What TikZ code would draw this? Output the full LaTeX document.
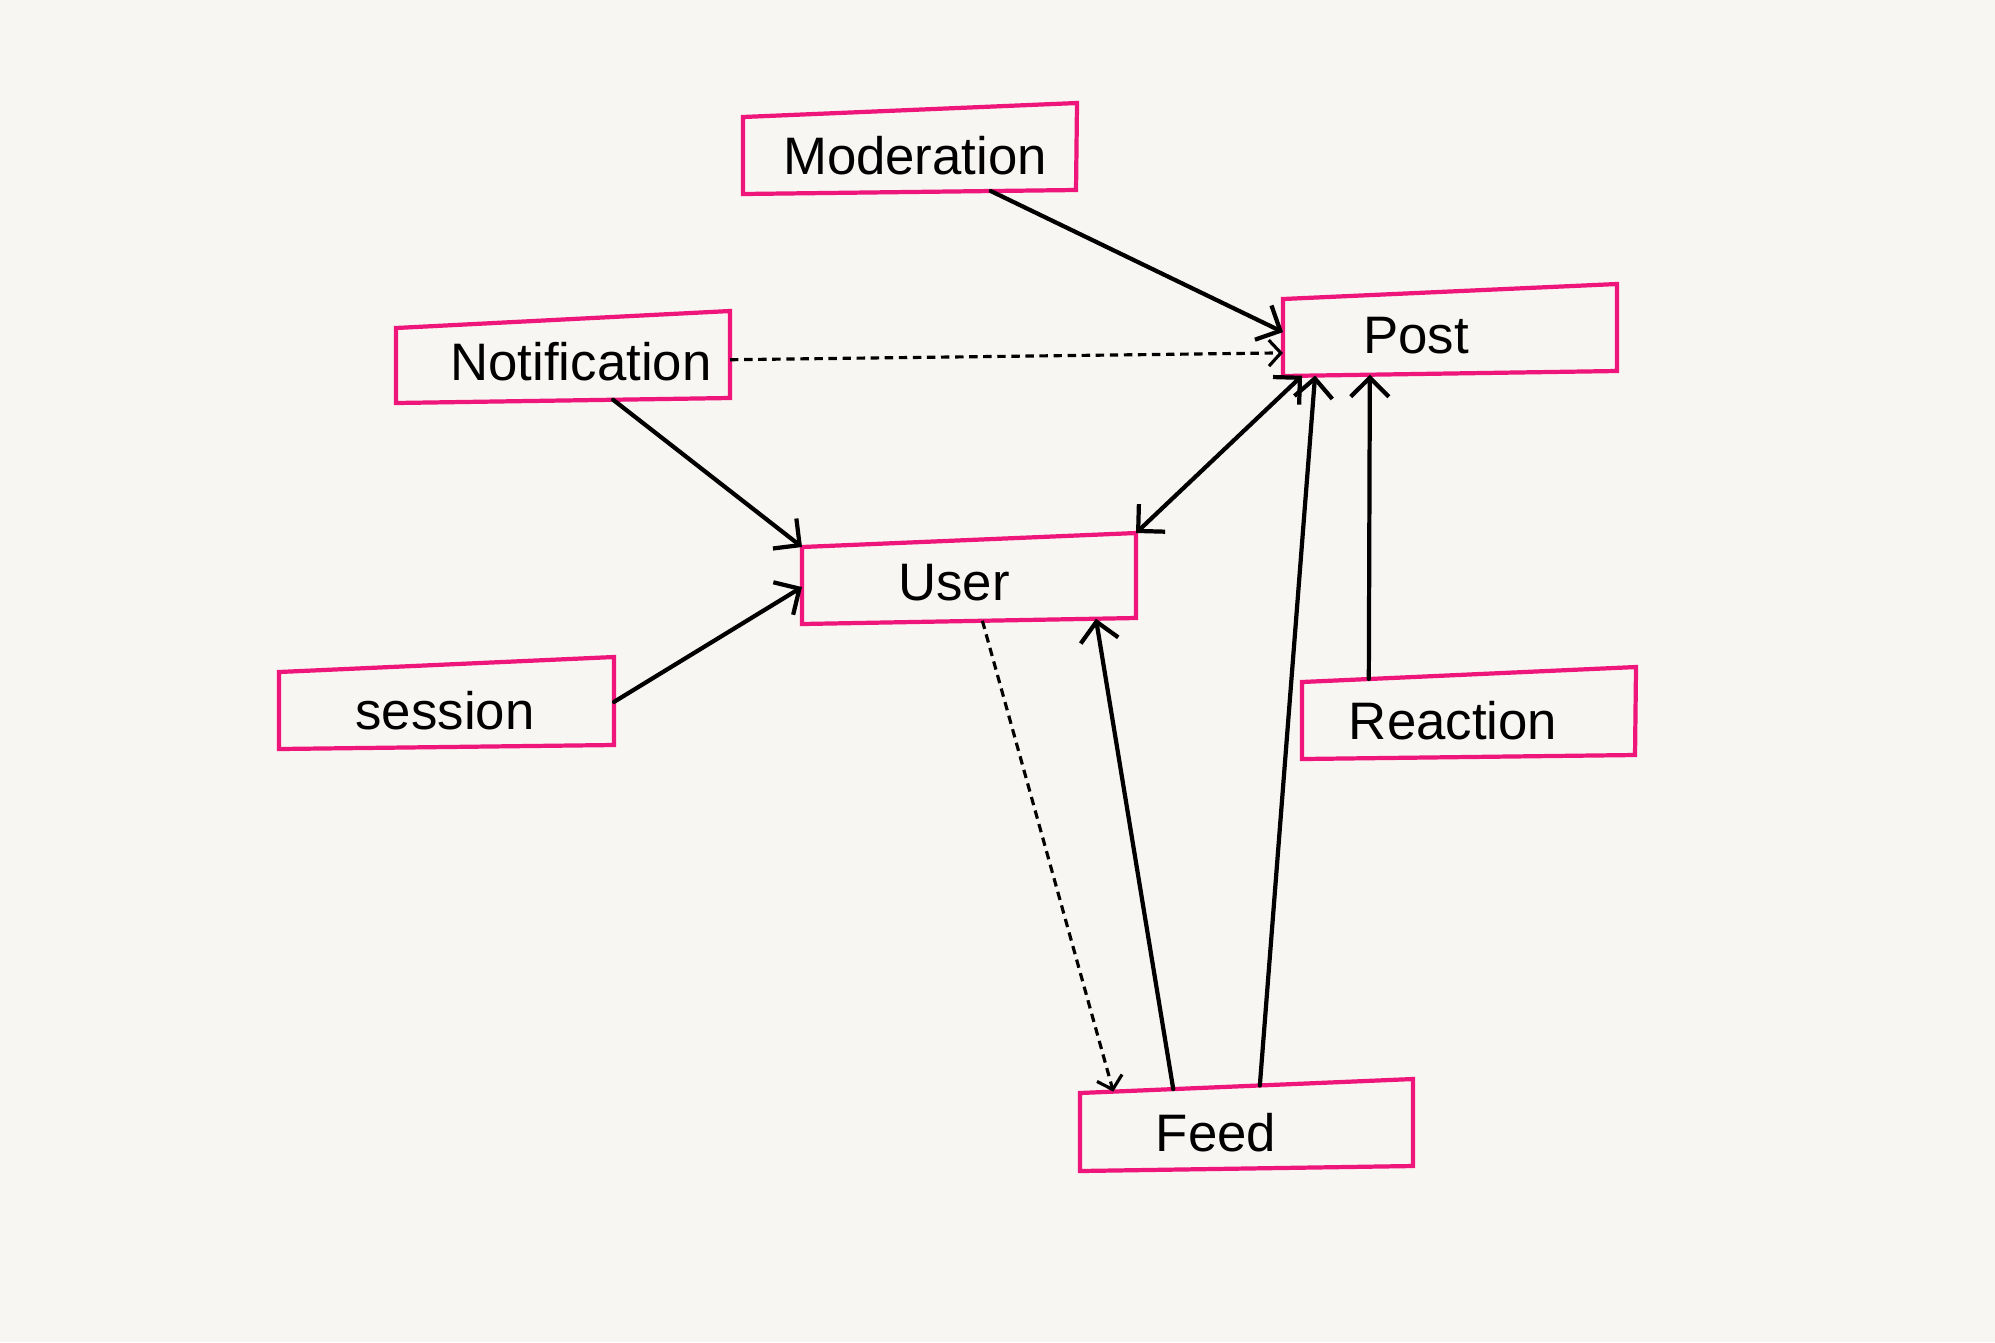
\documentclass[tikz,border=0pt]{standalone}
\usepackage{fontspec}
\setmainfont{Liberation Sans}
\usetikzlibrary{arrows.meta,calc}
\definecolor{paper}{RGB}{248,246,242}
\definecolor{boxpink}{RGB}{238,22,122}
\tikzset{
  barb/.tip={Straight Barb[length=1.9mm,width=3.8mm]},
  sbarb/.tip={Straight Barb[length=1.2mm,width=2.6mm]},
  box/.style={draw=boxpink, line width=1.2pt, line join=miter},
  lbl/.style={font=\fontsize{15}{18}\selectfont, text=black, inner sep=0pt},
  link/.style={draw=black, line width=1.2pt, line cap=round, -barb},
  twolink/.style={draw=black, line width=1.2pt, line cap=round, barb-barb},
  dlink/.style={draw=black, line width=0.9pt, dash pattern=on 2.4pt off 1.6pt, -sbarb}
}
\begin{document}
\begin{tikzpicture}[x=0.01cm,y=-0.01cm]
\useasboundingbox (0,0) rectangle (1995,1342);
\fill[paper] (0,0) rectangle (1995,1342);

% Moderation
\coordinate (modTL) at (743,117); \coordinate (modTR) at (1077,103);
\coordinate (modBR) at (1076,190); \coordinate (modBL) at (743,194);
\draw[box] (modTL) -- (modTR) -- (modBR) -- (modBL) -- cycle;
\node[lbl] (mod) at (915,156) {Moderation};

% Post
\coordinate (postTL) at (1283,299); \coordinate (postTR) at (1617,284);
\coordinate (postBR) at (1617,371); \coordinate (postBL) at (1283,376);
\draw[box] (postTL) -- (postTR) -- (postBR) -- (postBL) -- cycle;
\node[lbl] (post) at (1416,336) {Post};

% Notification
\coordinate (notTL) at (396,328); \coordinate (notTR) at (730,311);
\coordinate (notBR) at (730,398); \coordinate (notBL) at (396,403);
\draw[box] (notTL) -- (notTR) -- (notBR) -- (notBL) -- cycle;
\node[lbl] (not) at (581,362) {Notification};

% User
\coordinate (usrTL) at (802,547); \coordinate (usrTR) at (1136,533);
\coordinate (usrBR) at (1136,618); \coordinate (usrBL) at (802,624);
\draw[box] (usrTL) -- (usrTR) -- (usrBR) -- (usrBL) -- cycle;
\node[lbl] (usr) at (954,583) {User};

% session
\coordinate (sesTL) at (279,672); \coordinate (sesTR) at (614,657);
\coordinate (sesBR) at (614,745); \coordinate (sesBL) at (279,749);
\draw[box] (sesTL) -- (sesTR) -- (sesBR) -- (sesBL) -- cycle;
\node[lbl] (ses) at (445,711) {session};

% Reaction
\coordinate (reaTL) at (1302,682); \coordinate (reaTR) at (1636,667);
\coordinate (reaBR) at (1635,755); \coordinate (reaBL) at (1302,759);
\draw[box] (reaTL) -- (reaTR) -- (reaBR) -- (reaBL) -- cycle;
\node[lbl] (rea) at (1453,721) {Reaction};

% Feed
\coordinate (feeTL) at (1080,1093); \coordinate (feeTR) at (1413,1079);
\coordinate (feeBR) at (1413,1166); \coordinate (feeBL) at (1080,1171);
\draw[box] (feeTL) -- (feeTR) -- (feeBR) -- (feeBL) -- cycle;
\node[lbl] (fee) at (1216,1133) {Feed};

% connectors
\draw[link] ($(modBL)!0.744!(modBR)$) -- ($(postTL)!0.43!(postBL)$);
\draw[dlink] ($(notTR)!0.56!(notBR)$) -- ($(postTL)!0.70!(postBL)$);
\draw[link] ($(notBL)!0.65!(notBR)$) -- (usrTL);
\draw[link] ($(sesTR)!0.51!(sesBR)$) -- ($(usrTL)!0.52!(usrBL)$);
\draw[twolink] ($(postBL)!0.057!(postBR)$) -- (usrTR);
\draw[link] ($(feeTL)!0.54!(feeTR)$) -- ($(postBL)!0.096!(postBR)$);
\draw[link] ($(feeTL)!0.28!(feeTR)$) -- ($(usrBL)!0.88!(usrBR)$);
\draw[dlink] ($(usrBL)!0.54!(usrBR)$) -- ($(feeTL)!0.10!(feeTR)$);
\draw[link] ($(reaTL)!0.20!(reaTR)$) -- ($(postBL)!0.26!(postBR)$);
\end{tikzpicture}
\end{document}
